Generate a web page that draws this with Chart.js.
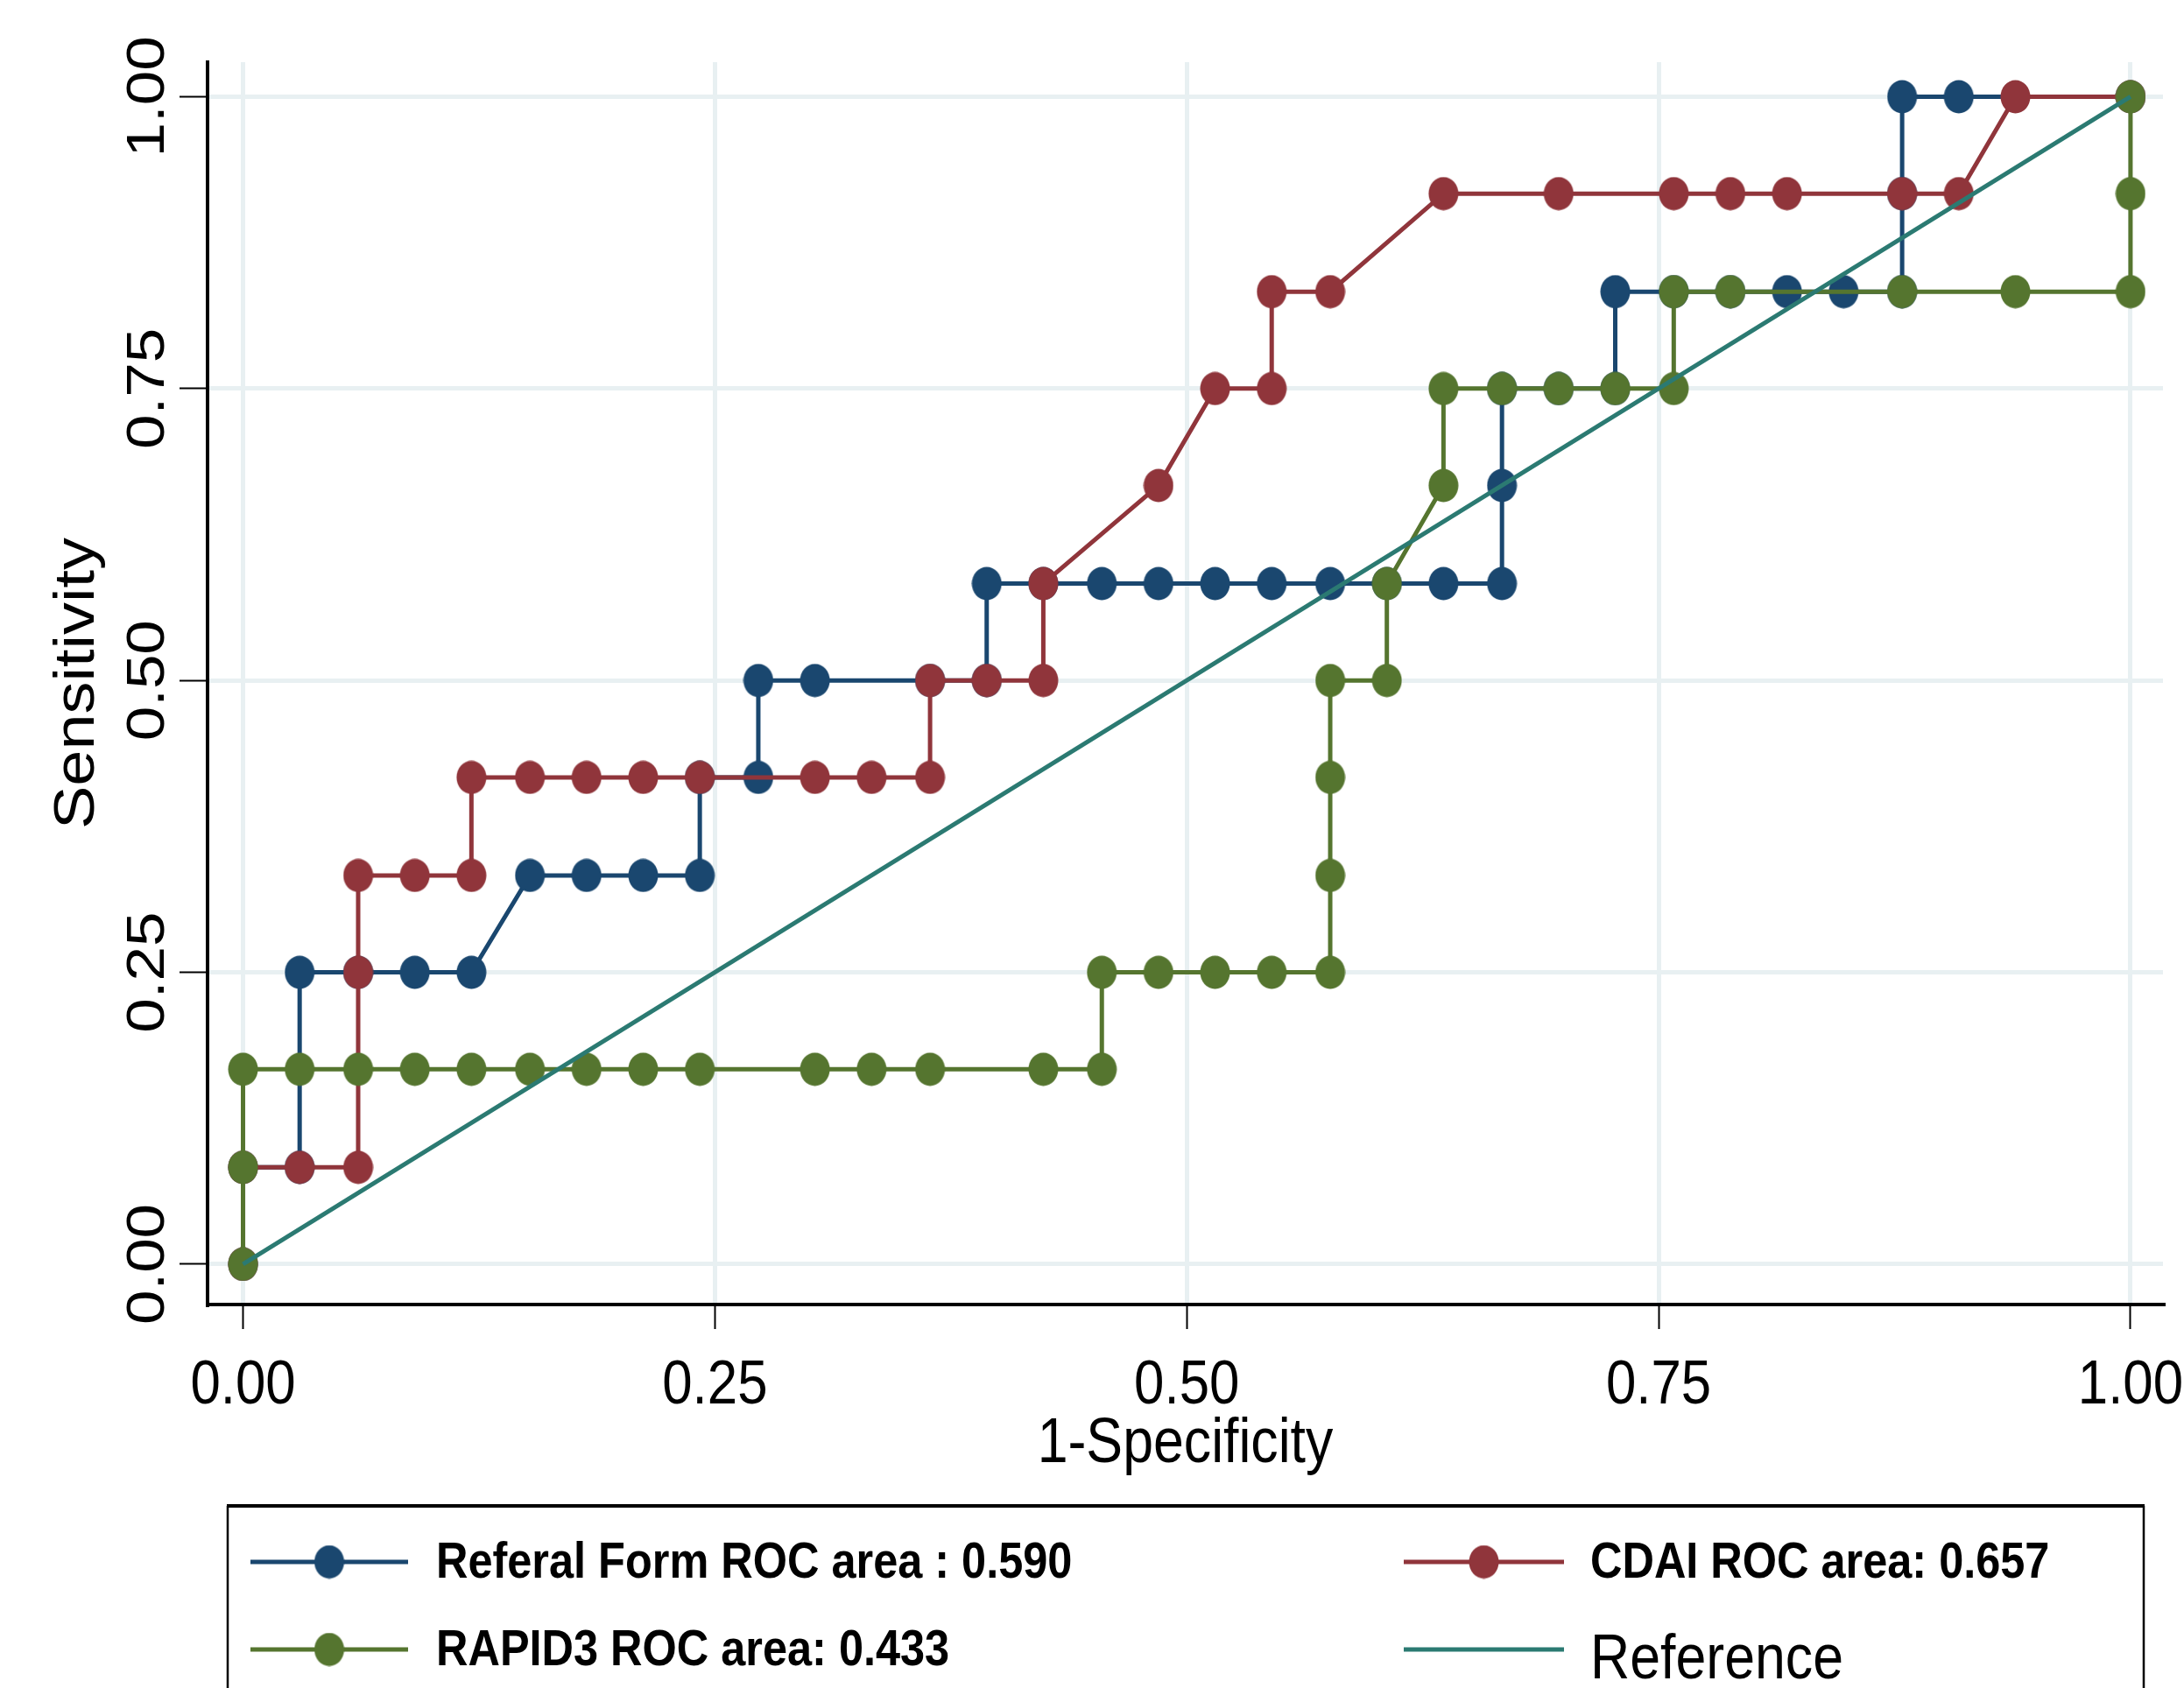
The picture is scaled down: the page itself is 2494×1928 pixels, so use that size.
<!DOCTYPE html>
<html>
<head>
<meta charset="utf-8">
<script src="https://cdn.jsdelivr.net/npm/chart.js@4.4.1/dist/chart.umd.min.js"></script>
<style>
  html, body { margin: 0; padding: 0; background: #fff; }
  #wrap { width: 2494px; height: 1928px; position: relative; }
</style>
</head>
<body>
<div id="wrap"><canvas id="roc"></canvas></div>
<script>
// ROC comparison: Referal Form vs CDAI vs RAPID3
// points as [1-specificity, sensitivity]

const referalForm = [[0,0],[0,.083],[.030,.083],[.030,.25],[.061,.25],[.091,.25],[.121,.25],[.152,.333],[.182,.333],[.212,.333],[.242,.333],[.242,.417],[.273,.417],[.273,.5],[.303,.5],[.364,.5],[.394,.5],[.394,.583],[.424,.583],[.455,.583],[.485,.583],[.515,.583],[.545,.583],[.576,.583],[.606,.583],[.636,.583],[.667,.583],[.667,.667],[.667,.75],[.697,.75],[.727,.75],[.727,.833],[.758,.833],[.788,.833],[.818,.833],[.848,.833],[.879,.833],[.879,.917],[.879,1],[.909,1],[1,1]];

const cdai = [[0,0],[0,.083],[.030,.083],[.061,.083],[.061,.25],[.061,.333],[.091,.333],[.121,.333],[.121,.417],[.152,.417],[.182,.417],[.212,.417],[.242,.417],[.303,.417],[.333,.417],[.364,.417],[.364,.5],[.394,.5],[.424,.5],[.424,.583],[.485,.667],[.515,.75],[.545,.75],[.545,.833],[.576,.833],[.636,.917],[.697,.917],[.758,.917],[.788,.917],[.818,.917],[.879,.917],[.909,.917],[.939,1],[1,1]];

const rapid3 = [[0,0],[0,.083],[0,.167],[.030,.167],[.061,.167],[.091,.167],[.121,.167],[.152,.167],[.182,.167],[.212,.167],[.242,.167],[.303,.167],[.333,.167],[.364,.167],[.424,.167],[.455,.167],[.455,.25],[.485,.25],[.515,.25],[.545,.25],[.576,.25],[.576,.333],[.576,.417],[.576,.5],[.606,.5],[.606,.583],[.636,.667],[.636,.75],[.667,.75],[.697,.75],[.727,.75],[.758,.75],[.758,.833],[.788,.833],[.879,.833],[.939,.833],[1,.833],[1,.917],[1,1]];

const diagonal = [[0,0],[1,1]];

const axisTicks = [0, 0.25, 0.5, 0.75, 1];
const seriesNames = ["Referal Form ROC area : 0.590", "CDAI ROC area: 0.657", "RAPID3 ROC area: 0.433", "Reference"];
const xTitle = "1-Specificity";
const yTitle = "Sensitivity";

const NAVY = "#1a476f", MAROON = "#90353b", FOREST = "#55752f", TEAL = "#2b7a72";
const GRID = "#e8f0f2";
const SQ = 0.87; // the original picture is squashed sideways, text follows
const FONT = '"Liberation Sans", Arial, sans-serif';

// slightly tall ellipse markers like the picture
function dot(color) {
  const c = document.createElement("canvas");
  c.width = 35; c.height = 39;
  const g = c.getContext("2d");
  g.fillStyle = color;
  g.beginPath();
  g.ellipse(17.5, 19.5, 17, 19, 0, 0, Math.PI * 2);
  g.fill();
  return c;
}

const toXY = (arr) => arr.map(p => ({ x: p[0], y: p[1] }));

function rocSet(label, pts, color, order) {
  return {
    label,
    data: toXY(pts),
    showLine: true,
    borderColor: color,
    backgroundColor: color,
    borderWidth: 5,
    pointStyle: dot(color),
    pointRadius: 16,
    pointHoverRadius: 16,
    order,
  };
}

function say(ctx, str, x, y, font, align, rotated) {
  ctx.save();
  ctx.translate(x, y);
  ctx.scale(SQ, 1);
  if (rotated) ctx.rotate(-Math.PI / 2);
  ctx.font = font;
  ctx.fillStyle = "#000";
  ctx.textAlign = align;
  ctx.textBaseline = "alphabetic";
  ctx.fillText(str, 0, 0);
  ctx.restore();
}

const labelsPlugin = {
  id: "stataText",
  afterDraw(chart) {
    const ctx = chart.ctx;
    const xs = chart.scales.x, ys = chart.scales.y;
    const area = chart.chartArea;

    // tick labels
    axisTicks.forEach(v => {
      say(ctx, v.toFixed(2), xs.getPixelForValue(v), 1603, "71px " + FONT, "center");
      say(ctx, v.toFixed(2), 187, ys.getPixelForValue(v), "71px " + FONT, "center", true);
    });

    // axis titles
    say(ctx, yTitle, 107, (area.top + area.bottom) / 2, "74px " + FONT, "center", true);
    say(ctx, xTitle, (area.left + area.right) / 2, 1670, "72px " + FONT, "center");

    // legend box (runs off the bottom edge)
    ctx.save();
    ctx.strokeStyle = "#000";
    ctx.lineWidth = 4;
    ctx.beginPath();
    ctx.moveTo(259, 1720); ctx.lineTo(2449, 1720);
    ctx.stroke();
    ctx.lineWidth = 2.5;
    ctx.beginPath();
    ctx.moveTo(260, 1720); ctx.lineTo(260, 1940);
    ctx.moveTo(2448, 1720); ctx.lineTo(2448, 1940);
    ctx.stroke();
    ctx.restore();

    const ds = chart.data.datasets;
    const slots = [
      { i: 0, x0: 286, x1: 466, y: 1784, tx: 498, ty: 1802, font: "bold 58px " + FONT },
      { i: 1, x0: 1603, x1: 1786, y: 1784, tx: 1816, ty: 1802, font: "bold 58px " + FONT },
      { i: 2, x0: 286, x1: 466, y: 1884, tx: 498, ty: 1902, font: "bold 58px " + FONT },
      { i: 3, x0: 1603, x1: 1786, y: 1884, tx: 1816, ty: 1917, font: "72px " + FONT },
    ];
    slots.forEach(s => {
      const d = ds[s.i];
      ctx.save();
      ctx.strokeStyle = d.borderColor;
      ctx.lineWidth = 5;
      ctx.beginPath();
      ctx.moveTo(s.x0, s.y); ctx.lineTo(s.x1, s.y);
      ctx.stroke();
      if (d.pointRadius > 0) {
        const img = d.pointStyle;
        ctx.drawImage(img, (s.x0 + s.x1) / 2 - img.width / 2, s.y - img.height / 2);
      }
      ctx.restore();
      say(ctx, d.label, s.tx, s.ty, s.font, "left");
    });
  }
};

const axisBase = (tickLen, size, isX) => ({
  type: "linear",
  afterBuildTicks: (s) => { s.ticks = axisTicks.map(v => ({ value: v })); },
  afterFit: (s) => { if (isX) s.height = size; else s.width = size; },
  ticks: { display: false },
  grid: { color: GRID, lineWidth: 5, tickLength: tickLen, tickColor: "#000", tickWidth: 2 },
  border: { display: true, color: "#000", width: 4 },
});

const xAxis = Object.assign(axisBase(28, 438, true), { min: -0.0188, max: 1.0172 });
const yAxis = Object.assign(axisBase(32, 237, false), { min: -0.0345, max: 1.0296 });

new Chart(document.getElementById("roc"), {
  type: "scatter",
  data: {
    datasets: [
      rocSet(seriesNames[0], referalForm, NAVY, 3),
      rocSet(seriesNames[1], cdai, MAROON, 2),
      rocSet(seriesNames[2], rapid3, FOREST, 1),
      {
        label: seriesNames[3],
        data: toXY(diagonal),
        showLine: true,
        borderColor: TEAL,
        borderWidth: 5,
        pointRadius: 0,
        order: 0,
      },
    ]
  },
  options: {
    responsive: true,
    maintainAspectRatio: false,
    animation: false,
    layout: { padding: { left: 0, top: 71, right: 24, bottom: 0 } },
    plugins: { legend: { display: false }, tooltip: { enabled: false } },
    scales: { x: xAxis, y: yAxis }
  },
  plugins: [labelsPlugin]
});
</script>
</body>
</html>
